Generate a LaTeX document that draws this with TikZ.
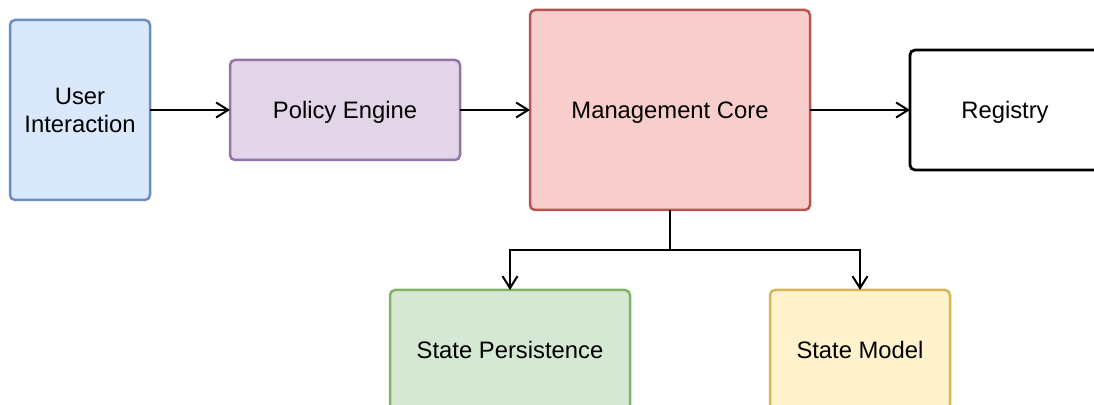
\documentclass[tikz,border=0pt]{standalone}
\usepackage{fontspec}
\setmainfont{Liberation Sans}
\usetikzlibrary{positioning,arrows.meta}

\definecolor{uifill}{HTML}{DAE8FC}
\definecolor{uiline}{HTML}{6C8EBF}
\definecolor{pefill}{HTML}{E1D5E7}
\definecolor{peline}{HTML}{9673A6}
\definecolor{mcfill}{HTML}{F8CECC}
\definecolor{mcline}{HTML}{B85450}
\definecolor{spfill}{HTML}{D5E8D4}
\definecolor{spline}{HTML}{82B366}
\definecolor{smfill}{HTML}{FFF2CC}
\definecolor{smline}{HTML}{D6B656}

\tikzset{>={Straight Barb[length=6pt,width=7.5pt]}, node distance = 40pt,
	box/.style={draw, rounded corners=2.5pt, line width=1.25pt, outer sep=0pt,
		inner sep=0pt, align=center, font=\fontsize{11.9}{14}\selectfont},
	oneline/.style={text depth=0pt},
	link/.style={->, line width=1pt}}

\begin{document}
\begin{tikzpicture}
			\path[use as bounding box, clip] (0,0) rectangle (547pt,-202.5pt);
			\node (UI) [box, fill=uifill, draw=uiline, minimum width=70pt, minimum height=90pt] at (40pt,-55pt) {User\\Interaction};
			\node (PE) [box, oneline, fill=pefill, draw=peline, minimum width=115pt, minimum height=50pt, right=of UI] {Policy Engine};
			\node (MC) [box, oneline, fill=mcfill, draw=mcline, minimum width=140pt, minimum height=100pt, right=35pt of PE] {Management Core};
			\node (REG) [box, oneline, fill=white, draw=black, line width=1.4pt, minimum width=95pt, minimum height=60pt, right=50pt of MC] {Registry};
			\node (SP) [box, oneline, fill=spfill, draw=spline, minimum width=120pt, minimum height=60pt, below=of MC, xshift=-80pt] {State Persistence};
			\node (SM) [box, oneline, fill=smfill, draw=smline, minimum width=90pt, minimum height=60pt, below=of MC, xshift=95pt] {State Model};
			\path[link] (UI) edge (PE)
			(PE) edge (MC)
			(MC) edge (REG);
			% split below the core
			\draw[link] (MC.south) -- ++(0,-20pt) -| (SP.north);
			\draw[link] (MC.south) -- ++(0,-20pt) -| (SM.north);
		\end{tikzpicture}
\end{document}
